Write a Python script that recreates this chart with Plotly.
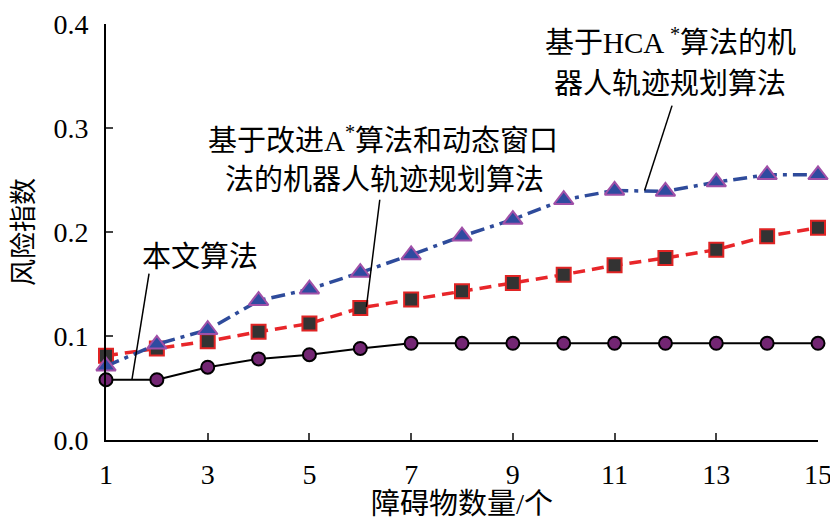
import plotly.graph_objects as go

# number of obstacles
obstacles = list(range(1, 16))

# risk index of each algorithm
risk_ours = [0.058, 0.058, 0.070, 0.078, 0.082, 0.088, 0.093, 0.093,
             0.093, 0.093, 0.093, 0.093, 0.093, 0.093, 0.093]
risk_astar_dwa = [0.081, 0.088, 0.095, 0.104, 0.112, 0.127, 0.135, 0.143,
                  0.151, 0.159, 0.168, 0.175, 0.183, 0.196, 0.204]
risk_hca = [0.071, 0.092, 0.106, 0.134, 0.145, 0.161, 0.178, 0.196,
            0.212, 0.231, 0.240, 0.239, 0.248, 0.255, 0.255]

x_ticks = [1, 3, 5, 7, 9, 11, 13, 15]
y_ticks = [0.0, 0.1, 0.2, 0.3, 0.4]

FONT = "Liberation Serif, Times New Roman, Noto Sans CJK SC"

fig = go.Figure()

# 本文算法: black solid line, purple circles
fig.add_trace(go.Scatter(
    x=obstacles, y=risk_ours, mode="lines+markers",
    line=dict(color="black", width=2),
    marker=dict(symbol="circle", size=13, color="#732673",
                line=dict(color="black", width=2)),
    cliponaxis=False, showlegend=False,
))

# improved A* + DWA: red dashed line, dark squares
fig.add_trace(go.Scatter(
    x=obstacles, y=risk_astar_dwa, mode="lines+markers",
    line=dict(color="#E8262A", width=3.5, dash="12px,7px"),
    marker=dict(symbol="square", size=14, color="#333333",
                line=dict(color="#E02424", width=2)),
    cliponaxis=False, showlegend=False,
))

# HCA*: blue dash-dot line, blue triangles
fig.add_trace(go.Scatter(
    x=obstacles, y=risk_hca, mode="lines+markers",
    line=dict(color="#2E4B9B", width=3.5, dash="14px,6px,4px,6px"),
    marker=dict(symbol="triangle-up", size=17, color="#2F4BA0",
                line=dict(color="#A050A8", width=2)),
    cliponaxis=False, showlegend=False,
))

# labels: (text, x, y)
labels = [
    ("本文算法", 2.85, 0.176),
    ("基于改进A<sup>*</sup>算法和动态窗口", 6.45, 0.289),
    ("法的机器人轨迹规划算法", 6.48, 0.250),
    ("基于HCA <sup>*</sup>算法的机", 12.09, 0.384),
    ("器人轨迹规划算法", 12.09, 0.342),
]
for text, lx, ly in labels:
    fig.add_annotation(x=lx, y=ly, text=text, showarrow=False,
                       font=dict(family=FONT, size=29, color="black"),
                       xanchor="center", yanchor="middle")

# leader lines from labels to curves: (x0, y0, x1, y1)
leaders = [
    (1.846, 0.160, 1.51, 0.058),
    (6.383, 0.231, 6.12, 0.128),
    (12.13, 0.3215, 11.59, 0.240),
]
for x0, y0, x1, y1 in leaders:
    fig.add_shape(type="line", xref="x", yref="y", x0=x0, y0=y0, x1=x1, y1=y1,
                  line=dict(color="black", width=1.5))

# axis titles
fig.add_annotation(x=0.5, y=-0.155, xref="paper", yref="paper",
                   text="障碍物数量/个", showarrow=False,
                   font=dict(family=FONT, size=29, color="black"),
                   xanchor="center", yanchor="middle")
fig.add_annotation(x=-0.115, y=0.5, xref="paper", yref="paper",
                   text="风险指数", showarrow=False, textangle=-90,
                   font=dict(family=FONT, size=27, color="black"),
                   xanchor="center", yanchor="middle")

# the page body adds an 8px margin, so the figure is a bit smaller
fig.update_layout(
    width=830, height=520,
    margin=dict(l=98, r=20, t=16, b=88),
    plot_bgcolor="white", paper_bgcolor="white",
    font=dict(family=FONT, size=28, color="black"),
)
fig.update_xaxes(
    range=[1, 15], tickvals=x_ticks, ticks="inside", ticklen=7, tickwidth=1.5,
    showline=True, linecolor="black", linewidth=2, showgrid=False,
    zeroline=False, ticklabelstandoff=8, automargin=False,
    ticklabeloverflow="allow",
)
fig.update_yaxes(
    range=[0, 0.4], tickvals=y_ticks, tickformat=".1f", ticks="inside",
    ticklen=7, tickwidth=1.5, showline=True, linecolor="black", linewidth=2,
    showgrid=False, zeroline=False, ticklabelstandoff=10, automargin=False,
    ticklabeloverflow="allow",
)

fig.write_html("out.html")
